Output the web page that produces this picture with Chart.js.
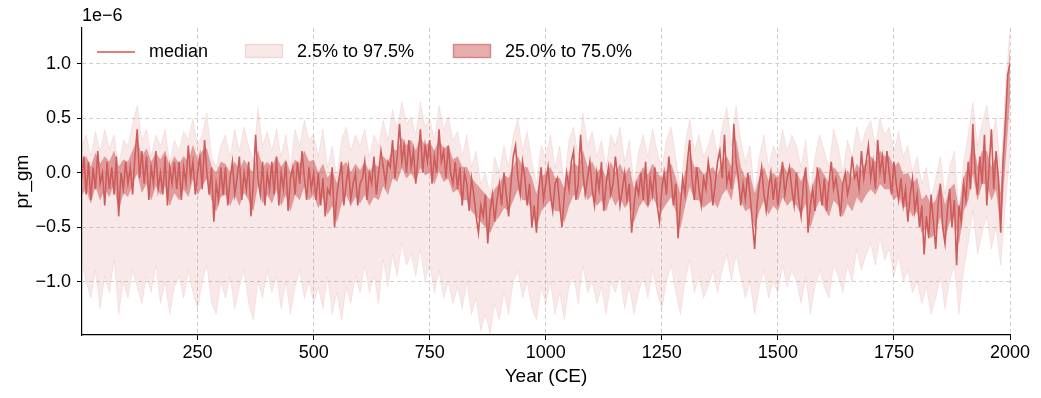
<!DOCTYPE html>
<html>
<head>
<meta charset="utf-8">
<script src="https://cdn.jsdelivr.net/npm/chart.js@4/dist/chart.umd.min.js"></script>
<style>
  body { margin: 0; background: #fff; }
  #wrap { width: 1041px; height: 398px; }
</style>
</head>
<body>
<div id="wrap"><canvas id="chart" width="1041" height="398"></canvas></div>
<script>
// x categories: year 1, then every 5 years (median) / every 10 years (bands)
const years5 = [1];
for (let y = 5; y <= 2000; y += 5) years5.push(y);
const years10 = [1];
for (let y = 10; y <= 2000; y += 10) years10.push(y);

// values, in units of 1e-6
const median = [
  -0.05, 0.15, -0.2, 0.1, -0.25, 0.05, -0.15, 0.2, -0.1, 0.0, -0.3, 0.1, -0.15, 0.05, -0.2, 0.15, -0.4, 0.0, -0.15, 0.1, -0.1,
  0.05, -0.2, 0.15, 0.4, -0.05, 0.2, -0.1, 0.15, -0.25, 0.05, -0.1, 0.2, -0.15, 0.0, -0.2, 0.15, -0.3, 0.05, -0.1, 0.1,
  -0.15, 0.1, -0.25, 0.05, -0.1, 0.25, -0.05, 0.1, -0.2, 0.0, 0.15, -0.15, 0.3, 0.0, -0.2, 0.05, -0.45, -0.1, -0.25, 0.05,
  -0.2, 0.05, -0.3, -0.05, 0.1, -0.2, -0.05, 0.15, -0.25, 0.0, -0.15, 0.1, -0.4, -0.1, 0.35, -0.05, -0.2, 0.1, -0.3, 0.0,
  -0.15, 0.1, -0.2, 0.15, -0.3, 0.0, -0.15, 0.1, -0.35, -0.05, 0.05, -0.2, 0.1, -0.1, 0.2, -0.05, -0.25, 0.05, -0.15, 0.0,
  -0.25, 0.0, -0.3, -0.05, -0.4, -0.15, -0.2, 0.05, -0.5, -0.2, -0.05, 0.1, -0.3, -0.1, 0.05, -0.25, -0.1, 0.0, -0.3, -0.1,
  -0.05, 0.1, -0.25, 0.0, -0.1, 0.15, -0.2, 0.0, 0.2, 0.05, -0.1, 0.1, 0.05, 0.3, -0.05, 0.15, 0.45, 0.1, 0.25, 0.0,
  0.3, 0.05, 0.2, -0.1, 0.15, 0.4, 0.0, 0.25, 0.1, 0.3, -0.1, 0.15, 0.0, 0.4, 0.1, 0.2, -0.05, 0.25, 0.0, -0.1,
  0.1, -0.15, 0.05, -0.3, 0.0, -0.1, -0.35, -0.05, -0.2, -0.4, -0.55, -0.3, -0.4, -0.2, -0.65, -0.35, -0.2, -0.45, -0.25, -0.1,
  -0.3, 0.0, -0.2, -0.4, -0.1, 0.15, 0.25, -0.05, -0.2, 0.1, -0.05, -0.3, -0.1, -0.5, -0.3, -0.55, -0.15, 0.05, -0.25, -0.1,
  0.05, -0.2, -0.35, -0.1, -0.05, -0.3, -0.5, -0.2, 0.0, -0.15, 0.1, 0.2, -0.25, -0.1, 0.35, 0.0, -0.2, -0.05, 0.1, -0.15,
  -0.3, 0.0, -0.15, 0.1, -0.35, -0.1, 0.05, -0.2, -0.1, 0.15, -0.05, -0.3, -0.15, 0.0, -0.25, -0.1, -0.55, -0.3, -0.1, -0.2,
  0.0, -0.25, 0.1, -0.3, -0.05, -0.2, 0.05, -0.3, -0.45, -0.15, 0.0, -0.2, 0.15, -0.05, -0.3, -0.1, -0.6, -0.3, -0.05, -0.2,
  0.1, 0.3, -0.05, -0.25, 0.05, -0.15, -0.3, -0.05, -0.15, 0.1, -0.05, -0.3, -0.1, 0.1, 0.2, -0.05, 0.35, -0.1, 0.0, -0.15,
  0.45, 0.1, -0.05, -0.3, -0.1, -0.25, 0.0, -0.2, -0.45, -0.7, -0.3, -0.1, 0.05, -0.2, -0.35, -0.15, 0.0, -0.25, -0.05, -0.3,
  -0.1, 0.1, -0.2, -0.05, 0.05, -0.15, -0.3, 0.0, -0.25, -0.4, -0.1, 0.05, -0.55, -0.3, -0.15, -0.35, 0.05, -0.1, -0.3, -0.05,
  -0.35, -0.1, 0.1, -0.15, -0.05, -0.2, -0.4, -0.1, 0.0, -0.2, -0.1, 0.15, -0.05, 0.0, -0.15, 0.2, -0.05, 0.1, 0.25, -0.05,
  0.1, -0.15, 0.3, 0.0, 0.15, -0.1, 0.2, 0.0, -0.2, 0.1, -0.1, -0.25, -0.05, -0.3, -0.15, -0.45, -0.2, -0.05, -0.35, -0.2,
  -0.5, -0.3, -0.75, -0.4, -0.6, -0.2, -0.45, -0.7, -0.3, -0.1, -0.5, -0.65, -0.35, -0.15, -0.5, -0.25, -0.85, -0.3, -0.45, -0.1,
  -0.25, 0.1, -0.15, 0.45, 0.0, -0.2, 0.15, -0.1, 0.35, -0.3, 0.05, 0.4, -0.15, 0.2, -0.05, -0.55, 0.1, 0.45, 0.9, 1.0
];
const q75 = [
  0.12, 0.15, 0.05, 0.18, 0.08, 0.15, 0.1, 0.2, 0.05, 0.12, 0.1,
  0.2, 0.3, 0.15, 0.22, 0.1, 0.18, 0.12, 0.2, 0.05, 0.15,
  0.08, 0.15, 0.1, 0.25, 0.12, 0.2, 0.22, 0.05, 0.0, 0.1,
  0.08, 0.0, 0.1, 0.02, 0.12, 0.05, 0.0, 0.2, 0.05, 0.1,
  0.05, 0.15, 0.05, 0.12, 0.0, 0.12, 0.08, 0.2, 0.1, 0.12,
  0.0, 0.08, -0.05, 0.02, -0.1, 0.05, 0.1, 0.0, 0.08, 0.02,
  0.1, 0.0, 0.08, 0.05, 0.15, 0.1, 0.22, 0.2, 0.32, 0.25,
  0.3, 0.2, 0.32, 0.25, 0.28, 0.2, 0.3, 0.22, 0.25, 0.12,
  0.15, 0.05, 0.05, -0.05, -0.1, -0.15, -0.2, -0.25, -0.15, -0.1,
  -0.02, -0.05, 0.05, 0.15, 0.05, 0.05, -0.05, -0.2, -0.05, 0.0,
  0.05, -0.05, -0.05, -0.15, 0.0, 0.1, 0.05, 0.2, 0.05, 0.1,
  0.0, 0.05, -0.05, 0.1, 0.0, 0.08, -0.02, 0.05, -0.15, -0.02,
  0.05, -0.02, 0.08, 0.0, -0.05, 0.02, 0.08, -0.05, -0.2, 0.0,
  0.18, 0.05, 0.05, -0.02, 0.02, 0.05, -0.02, 0.1, 0.15, 0.05,
  0.3, 0.05, -0.05, -0.02, -0.2, -0.05, 0.05, -0.08, 0.0, -0.05,
  0.08, 0.0, 0.05, 0.0, -0.08, 0.02, -0.2, -0.05, 0.05, -0.02,
  -0.1, 0.05, 0.0, -0.1, 0.02, -0.05, 0.08, 0.02, 0.1, 0.15,
  0.1, 0.2, 0.15, 0.15, 0.05, 0.1, -0.02, 0.0, -0.1, -0.05,
  -0.25, -0.2, -0.3, -0.25, -0.1, -0.3, -0.15, -0.1, -0.35, -0.05,
  0.05, 0.3, 0.05, 0.2, 0.2, 0.05, 0.15, -0.2, 0.55, 1.12
];
const q25 = [
  -0.2, -0.15, -0.28, -0.12, -0.25, -0.15, -0.22, -0.1, -0.35, -0.18, -0.22,
  -0.1, 0.0, -0.18, -0.1, -0.25, -0.12, -0.2, -0.12, -0.3, -0.18,
  -0.25, -0.15, -0.22, -0.05, -0.2, -0.12, -0.05, -0.25, -0.35, -0.22,
  -0.2, -0.3, -0.2, -0.3, -0.18, -0.25, -0.35, -0.1, -0.28, -0.2,
  -0.28, -0.15, -0.3, -0.2, -0.35, -0.2, -0.25, -0.12, -0.25, -0.2,
  -0.32, -0.22, -0.38, -0.3, -0.45, -0.28, -0.2, -0.3, -0.22, -0.28,
  -0.2, -0.3, -0.22, -0.25, -0.12, -0.2, -0.05, -0.08, 0.05, -0.05,
  0.0, -0.08, 0.05, -0.02, 0.0, -0.1, 0.02, -0.08, -0.05, -0.18,
  -0.15, -0.25, -0.25, -0.35, -0.4, -0.45, -0.5, -0.55, -0.45, -0.4,
  -0.32, -0.35, -0.25, -0.15, -0.25, -0.25, -0.35, -0.5, -0.35, -0.3,
  -0.25, -0.35, -0.35, -0.45, -0.3, -0.2, -0.25, -0.1, -0.25, -0.2,
  -0.3, -0.25, -0.35, -0.2, -0.3, -0.22, -0.32, -0.25, -0.45, -0.32,
  -0.25, -0.32, -0.22, -0.3, -0.35, -0.28, -0.22, -0.35, -0.5, -0.3,
  -0.12, -0.25, -0.25, -0.32, -0.28, -0.25, -0.32, -0.2, -0.15, -0.25,
  0.0, -0.25, -0.35, -0.32, -0.5, -0.35, -0.25, -0.38, -0.3, -0.35,
  -0.22, -0.3, -0.25, -0.3, -0.38, -0.28, -0.5, -0.35, -0.25, -0.32,
  -0.4, -0.25, -0.3, -0.4, -0.28, -0.35, -0.22, -0.28, -0.2, -0.15,
  -0.2, -0.1, -0.15, -0.15, -0.25, -0.2, -0.32, -0.3, -0.4, -0.35,
  -0.55, -0.5, -0.6, -0.55, -0.4, -0.6, -0.45, -0.4, -0.65, -0.35,
  -0.25, 0.0, -0.25, -0.1, -0.1, -0.25, -0.15, -0.5, 0.1, 0.7
];
const q975 = [
  0.25, 0.35, 0.15, 0.38, 0.2, 0.4, 0.22, 0.35, 0.05, 0.3, 0.25,
  0.45, 0.62, 0.3, 0.4, 0.15, 0.35, 0.25, 0.4, 0.1, 0.3,
  0.2, 0.38, 0.3, 0.5, 0.25, 0.35, 0.55, 0.15, 0.05, 0.25,
  0.35, 0.15, 0.4, 0.2, 0.42, 0.25, 0.1, 0.6, 0.25, 0.38,
  0.2, 0.4, 0.15, 0.35, 0.05, 0.4, 0.25, 0.48, 0.3, 0.35,
  0.15, 0.4, 0.05, 0.25, -0.05, 0.3, 0.42, 0.2, 0.35, 0.25,
  0.4, 0.15, 0.35, 0.25, 0.48, 0.3, 0.58, 0.4, 0.65, 0.45,
  0.52, 0.35, 0.65, 0.42, 0.5, 0.3, 0.62, 0.4, 0.52, 0.3,
  0.38, 0.15, 0.35, 0.05, 0.2, -0.1, 0.0, -0.2, 0.15, 0.0,
  0.25, 0.05, 0.35, 0.5, 0.2, 0.38, 0.1, -0.1, 0.25, 0.15,
  0.35, 0.05, 0.25, -0.1, 0.3, 0.42, 0.15, 0.55, 0.25, 0.38,
  0.15, 0.3, 0.05, 0.35, 0.25, 0.42, 0.1, 0.3, -0.1, 0.2,
  0.35, 0.15, 0.4, 0.2, 0.05, 0.3, 0.42, 0.15, -0.15, 0.25,
  0.5, 0.2, 0.35, 0.15, 0.25, 0.4, 0.15, 0.42, 0.6, 0.25,
  0.62, 0.3, 0.1, 0.25, -0.2, 0.15, 0.35, 0.05, 0.25, 0.15,
  0.4, 0.2, 0.35, 0.25, 0.05, 0.3, -0.15, 0.15, 0.35, 0.2,
  0.05, 0.4, 0.25, 0.0, 0.3, 0.15, 0.42, 0.25, 0.4, 0.48,
  0.25, 0.5, 0.35, 0.42, 0.2, 0.38, 0.15, 0.25, 0.0, 0.15,
  -0.1, 0.05, -0.25, -0.05, 0.15, -0.2, 0.05, 0.2, -0.35, 0.1,
  0.35, 0.65, 0.25, 0.45, 0.62, 0.3, 0.5, 0.0, 0.75, 1.33
];
const q025 = [
  -0.85, -1.0, -1.15, -0.9, -1.25, -0.95, -1.1, -0.8, -1.3, -1.0, -1.15,
  -0.9, -1.05, -1.2, -0.95, -1.1, -0.85, -1.2, -1.0, -1.3, -1.05,
  -0.95, -1.15, -0.9, -1.1, -1.25, -1.0, -0.85, -1.2, -1.3, -1.0,
  -1.15, -0.95, -1.25, -1.05, -0.9, -1.2, -1.35, -1.0, -1.15, -0.9,
  -1.1, -0.95, -1.25, -1.0, -1.3, -1.05, -0.9, -1.15, -1.0, -1.2,
  -1.05, -1.25, -0.95, -1.3, -1.1, -1.35, -1.05, -1.2, -0.95, -1.1,
  -0.85, -1.1, -0.95, -1.2, -0.8, -1.05, -0.75, -0.95, -0.65, -0.85,
  -0.75, -0.95, -0.7, -1.0, -0.85, -1.1, -0.9, -1.15, -1.0, -1.2,
  -1.05, -1.25, -1.0, -1.3, -1.15, -1.45, -1.3, -1.48, -1.2, -1.35,
  -1.1, -1.3, -1.0, -0.9, -1.15, -1.0, -1.25, -1.35, -1.05, -1.2,
  -1.0, -1.3, -1.1, -1.35, -1.05, -0.95, -1.2, -0.85, -1.1, -1.0,
  -1.2, -1.05, -1.3, -1.0, -1.1, -0.95, -1.25, -1.05, -1.3, -1.1,
  -0.95, -1.15, -0.9, -1.1, -1.25, -1.0, -0.85, -1.1, -1.3, -1.0,
  -0.8, -1.1, -0.95, -1.15, -1.05, -0.9, -1.1, -0.9, -0.75, -1.0,
  -0.75, -0.95, -1.15, -1.0, -1.3, -1.05, -0.9, -1.15, -1.0, -1.1,
  -0.85, -1.05, -0.9, -1.0, -1.2, -0.95, -1.3, -1.05, -0.9, -1.05,
  -1.15, -0.85, -0.95, -1.1, -0.85, -1.0, -0.7, -0.9, -0.75, -0.65,
  -0.85, -0.6, -0.8, -0.7, -0.95, -0.75, -1.0, -0.9, -1.1, -1.0,
  -1.2, -1.05, -1.3, -1.15, -0.95, -1.25, -1.0, -0.85, -1.3, -0.9,
  -0.65, -0.35, -0.75, -0.55, -0.4, -0.7, -0.5, -0.85, -0.3, 0.2
];

const xTicks = [250, 500, 750, 1000, 1250, 1500, 1750, 2000];
const yTicks = [-1.0, -0.5, 0.0, 0.5, 1.0];
const seriesLabels = ['median', '2.5% to 97.5%', '25.0% to 75.0%'];

const FONT = '"Liberation Sans", Arial, Helvetica, sans-serif';
const RED = 'rgb(205, 92, 92)';
const LIGHT = 'rgba(205, 92, 92, 0.14)';
const DARK = 'rgba(205, 92, 92, 0.55)';

function pts(xs, vals) {
  return vals.map((v, i) => ({ x: xs[i], y: v }));
}

function fmt(v) {
  return v.toFixed(1).replace('-', '\u2212');
}

// matplotlib style legend + offset label drawn inside the canvas
const extras = {
  id: 'extras',
  afterDraw(chart) {
    const ctx = chart.ctx;
    const area = chart.chartArea;
    ctx.save();
    ctx.font = '18px ' + FONT;
    ctx.fillStyle = '#000';
    ctx.textBaseline = 'bottom';
    ctx.textAlign = 'left';
    ctx.fillText('1e\u22126', area.left, area.top - 3);

    ctx.textBaseline = 'middle';
    const ly = 52;
    ctx.strokeStyle = 'rgb(218, 80, 80)';
    ctx.lineWidth = 1.5;
    ctx.beginPath();
    ctx.moveTo(97, ly);
    ctx.lineTo(135, ly);
    ctx.stroke();
    ctx.fillText(seriesLabels[0], 149, ly);

    ctx.fillStyle = LIGHT;
    ctx.fillRect(245, 44, 38, 14);
    ctx.strokeStyle = LIGHT;
    ctx.strokeRect(245.5, 44.5, 37, 13);
    ctx.fillStyle = '#000';
    ctx.fillText(seriesLabels[1], 297, ly);

    ctx.fillStyle = 'rgba(205, 92, 92, 0.5)';
    ctx.fillRect(453, 44, 38, 14);
    ctx.strokeStyle = 'rgba(205, 92, 92, 0.5)';
    ctx.strokeRect(453.5, 44.5, 37, 13);
    ctx.fillStyle = '#000';
    ctx.fillText(seriesLabels[2], 505, ly);
    ctx.restore();
  }
};

const ctx = document.getElementById('chart').getContext('2d');
const chart = new Chart(ctx, {
  type: 'line',
  data: {
    datasets: [
      { data: pts(years10, q025), borderColor: LIGHT, borderWidth: 0.8, pointRadius: 0, fill: false },
      { data: pts(years10, q975), borderColor: LIGHT, borderWidth: 0.8, pointRadius: 0, fill: '-1', backgroundColor: LIGHT },
      { data: pts(years10, q25), borderColor: 'rgba(205, 92, 92, 0.3)', borderWidth: 0.6, pointRadius: 0, fill: false },
      { data: pts(years10, q75), borderColor: 'rgba(205, 92, 92, 0.3)', borderWidth: 0.6, pointRadius: 0, fill: '-1', backgroundColor: DARK },
      { data: pts(years5, median), borderColor: RED, borderWidth: 1.6, pointRadius: 0, fill: false }
    ]
  },
  options: {
    responsive: false,
    animation: false,
    devicePixelRatio: 1,
    layout: { padding: { top: 28, right: 31, left: 0, bottom: 0 } },
    plugins: { legend: { display: false }, tooltip: { enabled: false } },
    scales: {
      x: {
        type: 'linear',
        min: 1,
        max: 2000,
        afterBuildTicks: s => { s.ticks = xTicks.map(v => ({ value: v })); },
        afterFit: s => { s.height = 63; },
        ticks: { color: '#000', font: { family: FONT, size: 18 }, padding: 2, maxRotation: 0, autoSkip: false, callback: v => String(v) },
        grid: { color: '#cfcfcf', lineWidth: 1, tickColor: '#000', tickLength: 5, tickWidth: 1 },
        border: { display: true, color: '#000', width: 1.2, dash: [4, 3] },
        title: { display: true, text: 'Year (CE)', color: '#000', font: { family: FONT, size: 19 }, padding: { top: 0, bottom: 10 } }
      },
      y: {
        min: -1.49,
        max: 1.33,
        afterBuildTicks: s => { s.ticks = yTicks.map(v => ({ value: v })); },
        afterFit: s => { s.width = 82; },
        ticks: { color: '#000', font: { family: FONT, size: 18 }, padding: 6, callback: v => fmt(v) },
        grid: { color: '#cfcfcf', lineWidth: 1, tickColor: '#000', tickLength: 5, tickWidth: 1 },
        border: { display: true, color: '#000', width: 1.2, dash: [4, 3] },
        title: { display: true, text: 'pr_gm', color: '#000', font: { family: FONT, size: 19 }, padding: { top: 11, bottom: 0 } }
      }
    }
  },
  plugins: [extras]
});
</script>
</body>
</html>
